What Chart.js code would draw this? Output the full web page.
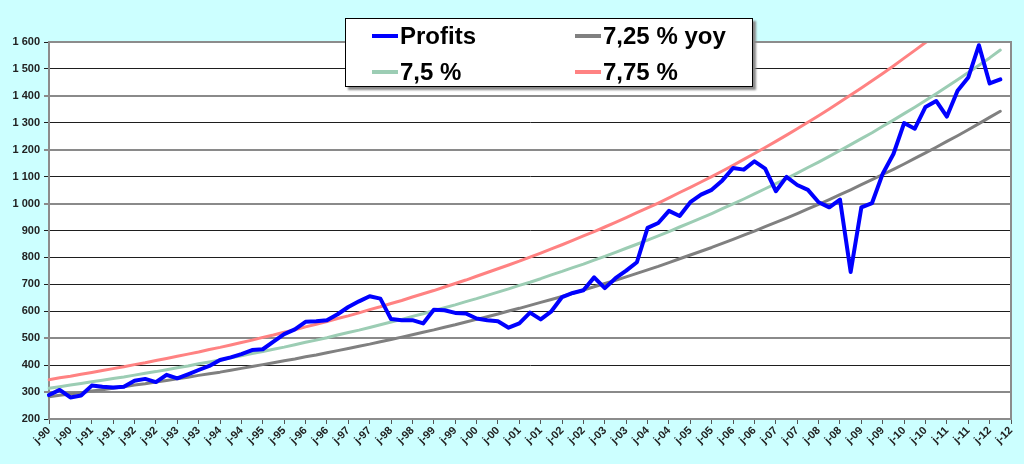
<!DOCTYPE html>
<html>
<head>
<meta charset="utf-8">
<script src="https://cdn.jsdelivr.net/npm/chart.js@4/dist/chart.umd.min.js"></script>
<style>
  html, body { margin: 0; padding: 0; background: #ccffff; }
  #wrap { position: relative; width: 1024px; height: 464px; }
  #legend {
    position: absolute; left: 345px; top: 18px; width: 406px; height: 67px;
    background: #fff; border: 1px solid #000; box-shadow: 3px 3px 2px #8a8a8a;
    font: bold 24px "Liberation Sans", Arial, sans-serif; color: #000;
  }
  #legend .item { position: absolute; display: flex; align-items: center; height: 30px; white-space: nowrap; }
  #legend .swatch { width: 26px; height: 4px; margin-right: 2px; }
</style>
</head>
<body>
<div id="wrap">
  <canvas id="myChart" width="1024" height="464"></canvas>
  <div id="legend"></div>
</div>
<script>
// quarters from jan-90 to jul-12, labels in excel "mmmmm-yy" style
var years = [90, 91, 92, 93, 94, 95, 96, 97, 98, 99, 0, 1, 2, 3, 4, 5, 6, 7, 8, 9, 10, 11, 12];
var months = ["j", "a", "j", "o"];

var profits = [
  289, 308, 280, 287, 324, 320, 317, 320, 342, 349, 337, 364,
  351, 366, 382, 397, 419, 429, 441, 456, 459, 487, 515, 533,
  561, 563, 567, 589, 616, 637, 656, 647, 571, 567, 567, 555,
  606, 604, 594, 592, 573, 567, 563, 539, 555, 595, 570, 600,
  653, 668, 678, 726, 686, 723, 751, 782, 910, 928, 973, 954,
  1005, 1033, 1051, 1086, 1132, 1126, 1157, 1130, 1046, 1099, 1069, 1051,
  1005, 986, 1015, 746, 986, 1002, 1111, 1184, 1299, 1278, 1359, 1381,
  1323, 1419, 1468, 1588, 1446, 1461
];

var yoy725 = [
  283, 288, 293, 298, 304, 309, 314, 320, 326, 331, 337, 343,
  349, 355, 362, 368, 374, 381, 388, 395, 402, 409, 416, 423,
  431, 438, 446, 454, 462, 470, 478, 487, 495, 504, 513, 522,
  531, 541, 550, 560, 570, 580, 590, 601, 611, 622, 633, 644,
  655, 667, 679, 691, 703, 715, 728, 741, 754, 767, 781, 795,
  809, 823, 837, 852, 867, 883, 898, 914, 930, 946, 963, 980,
  997, 1015, 1033, 1051, 1070, 1089, 1108, 1127, 1147, 1168, 1188, 1209,
  1231, 1252, 1274, 1297, 1320, 1343
];

var pct75 = [
  314, 320, 326, 332, 338, 344, 350, 356, 363, 370, 376, 383,
  390, 397, 405, 412, 419, 427, 435, 443, 451, 459, 467, 476,
  485, 493, 502, 512, 521, 530, 540, 550, 560, 570, 581, 591,
  602, 613, 624, 636, 647, 659, 671, 683, 696, 708, 721, 735,
  748, 762, 775, 790, 804, 819, 834, 849, 864, 880, 896, 913,
  929, 946, 963, 981, 999, 1017, 1036, 1055, 1074, 1093, 1113, 1134,
  1154, 1175, 1197, 1219, 1241, 1263, 1287, 1310, 1334, 1358, 1383, 1408,
  1434, 1460, 1487, 1514, 1541, 1570
];

// goes off the top of the plot after 2010
var pct775 = [
  346, 353, 359, 366, 373, 380, 387, 394, 402, 409, 417, 425,
  433, 441, 449, 458, 466, 475, 484, 493, 503, 512, 522, 531,
  542, 552, 562, 573, 583, 594, 606, 617, 629, 640, 653, 665,
  677, 690, 703, 716, 730, 744, 758, 772, 786, 801, 816, 832,
  847, 863, 880, 896, 913, 930, 948, 966, 984, 1002, 1021, 1041,
  1060, 1080, 1100, 1121, 1142, 1164, 1186, 1208, 1231, 1254, 1278, 1302,
  1326, 1351, 1377, 1403, 1429, 1456, 1483, 1511, 1540, 1569, 1598, 1628
];

var yTicks = [200, 300, 400, 500, 600, 700, 800, 900, 1000, 1100, 1200, 1300, 1400, 1500, 1600];
// these gridlines come out lighter/thicker in the original picture
var lightGrid = [300, 500, 1000, 1200, 1400];

var labels = [];
years.forEach(function (y) {
  var yy = String(y).padStart(2, "0");
  months.forEach(function (m) {
    labels.push(m + "-" + yy);
  });
});
labels = labels.slice(0, 91);

var seriesNames = ["Profits", "7,25 % yoy", "7,5 %", "7,75 %"];
var seriesColors = ["#0000ff", "#808080", "#9ccdb4", "#ff8282"];

var font = "'Liberation Sans', Arial, sans-serif";

var data = {
  labels: labels,
  datasets: [
    { label: seriesNames[0], data: profits, borderColor: seriesColors[0], borderWidth: 4 },
    { label: seriesNames[1], data: yoy725, borderColor: seriesColors[1], borderWidth: 3 },
    { label: seriesNames[2], data: pct75, borderColor: seriesColors[2], borderWidth: 3 },
    { label: seriesNames[3], data: pct775, borderColor: seriesColors[3], borderWidth: 3 },
  ],
};

var plotBg = {
  id: "plotBg",
  beforeDraw: function (chart) {
    var a = chart.chartArea, c = chart.ctx;
    c.save();
    c.fillStyle = "#fff";
    c.fillRect(a.left, a.top, a.right - a.left, a.bottom - a.top);
    c.restore();
  },
  afterDraw: function (chart) {
    var a = chart.chartArea, c = chart.ctx;
    c.save();
    c.strokeStyle = "#8c8c8c";
    c.lineWidth = 2;
    c.beginPath();
    c.moveTo(a.left, a.top);
    c.lineTo(a.right, a.top);
    c.lineTo(a.right, a.bottom);
    c.stroke();
    c.restore();
  },
};

function isLight(ctx) {
  return ctx.tick && lightGrid.indexOf(ctx.tick.value) >= 0;
}

var options = {
  responsive: false,
  animation: false,
  layout: { padding: { top: 42, right: 13, left: 0, bottom: 0 } },
  elements: {
    point: { radius: 0 },
    line: { tension: 0, borderCapStyle: "round", borderJoinStyle: "round" },
  },
  plugins: { legend: { display: false }, tooltip: { enabled: false } },
  scales: {
    x: {
      type: "category",
      offset: false,
      afterFit: function (s) { s.height = 45; },
      grid: {
        drawOnChartArea: false,
        tickLength: 5,
        color: function (ctx) { return ctx.index % 2 === 0 ? "#555" : "rgba(0,0,0,0)"; },
      },
      border: { color: "#8c8c8c", width: 2 },
      ticks: {
        autoSkip: false,
        minRotation: 45,
        maxRotation: 45,
        padding: 0,
        color: "#222",
        font: { family: font, size: 11, weight: "bold" },
        callback: function (v, i) { return i % 2 === 0 ? labels[i] : ""; },
      },
    },
    y: {
      min: yTicks[0],
      max: yTicks[yTicks.length - 1],
      afterFit: function (s) { s.width = 49; },
      afterBuildTicks: function (s) {
        s.ticks = yTicks.map(function (v) { return { value: v }; });
      },
      grid: {
        color: function (ctx) { return isLight(ctx) ? "#8a8a8a" : "#1e1e1e"; },
        lineWidth: function (ctx) { return isLight(ctx) ? 2 : 1; },
        tickLength: 5,
      },
      border: { color: "#8c8c8c", width: 2 },
      ticks: {
        padding: 4,
        color: "#222",
        font: { family: font, size: 11, weight: "bold" },
        callback: function (v) { return String(v).replace(/\B(?=(\d{3})+(?!\d))/g, " "); },
      },
    },
  },
};

const ctx = document.getElementById("myChart").getContext("2d");
const myChart = new Chart(ctx, {
  type: "line",
  data: data,
  options: options,
  plugins: [plotBg],
});

// legend box sitting over the plot, 2 x 2
var legendPos = [[26, 2], [229, 2], [26, 38], [229, 38]];
var order = [0, 1, 2, 3];
var legend = document.getElementById("legend");
order.forEach(function (k, n) {
  var item = document.createElement("div");
  item.className = "item";
  item.style.left = legendPos[n][0] + "px";
  item.style.top = legendPos[n][1] + "px";
  var sw = document.createElement("span");
  sw.className = "swatch";
  sw.style.background = seriesColors[k];
  var tx = document.createElement("span");
  tx.textContent = seriesNames[k];
  item.appendChild(sw);
  item.appendChild(tx);
  legend.appendChild(item);
});
</script>
</body>
</html>
